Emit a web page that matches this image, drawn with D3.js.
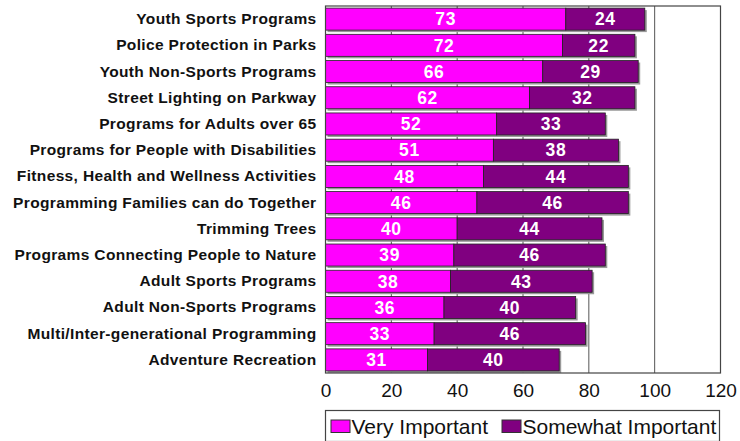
<!DOCTYPE html>
<html>
<head>
<meta charset="utf-8">
<script src="https://cdn.jsdelivr.net/npm/d3@7"></script>
<style>
  body { margin: 0; background: #fff; }
  svg { display: block; font-family: "Liberation Sans", Arial, sans-serif; }
</style>
</head>
<body>
<svg id="chart" width="740" height="441"></svg>
<script>
const categories = [
  "Youth Sports Programs",
  "Police Protection in Parks",
  "Youth Non-Sports Programs",
  "Street Lighting on Parkway",
  "Programs for Adults over 65",
  "Programs for People with Disabilities",
  "Fitness, Health and Wellness Activities",
  "Programming Families can do Together",
  "Trimming Trees",
  "Programs Connecting People to Nature",
  "Adult Sports Programs",
  "Adult Non-Sports Programs",
  "Multi/Inter-generational Programming",
  "Adventure Recreation"
];
const veryImportant = [73, 72, 66, 62, 52, 51, 48, 46, 40, 39, 38, 36, 33, 31];
const somewhatImportant = [24, 22, 29, 32, 33, 38, 44, 46, 44, 46, 43, 40, 46, 40];
const seriesNames = ["Very Important", "Somewhat Important"];
const seriesColors = ["#ff00ff", "#800080"];
const xTicks = [0, 20, 40, 60, 80, 100, 120];

const svg = d3.select("#chart");
const plotLeft = 325.5, plotRight = 720.5, plotTop = 6, plotBottom = 373;

const x = d3.scaleLinear().domain([0, 120]).range([plotLeft, plotRight]);
const y = d3.scaleBand().domain(categories).range([plotTop, plotBottom]).paddingInner(0.16).paddingOuter(0.08);

// plot background + gridlines
svg.append("rect")
  .attr("x", plotLeft).attr("y", plotTop)
  .attr("width", plotRight - plotLeft).attr("height", plotBottom - plotTop)
  .attr("fill", "#fff");

svg.append("g")
  .selectAll("line")
  .data(xTicks.slice(1, -1))
  .join("line")
  .attr("x1", d => x(d)).attr("x2", d => x(d))
  .attr("y1", plotTop).attr("y2", plotBottom)
  .attr("stroke", "#555")
  .attr("stroke-width", 1);

const rows = categories.map((c, i) => ({ cat: c, v: veryImportant[i], s: somewhatImportant[i] }));

// bar shadows
svg.append("g")
  .selectAll("rect")
  .data(rows)
  .join("rect")
  .attr("x", x(0) + 2)
  .attr("y", d => y(d.cat) + 2)
  .attr("width", d => x(d.v + d.s) - x(0))
  .attr("height", y.bandwidth())
  .attr("fill", "#999");

const bars = svg.append("g");
bars.selectAll("rect.very")
  .data(rows)
  .join("rect")
  .attr("class", "very")
  .attr("x", x(0))
  .attr("y", d => y(d.cat))
  .attr("width", d => x(d.v) - x(0))
  .attr("height", y.bandwidth())
  .attr("fill", seriesColors[0])
  .attr("stroke", "#222")
  .attr("stroke-width", 0.8);

bars.selectAll("rect.some")
  .data(rows)
  .join("rect")
  .attr("class", "some")
  .attr("x", d => x(d.v))
  .attr("y", d => y(d.cat))
  .attr("width", d => x(d.v + d.s) - x(d.v))
  .attr("height", y.bandwidth())
  .attr("fill", seriesColors[1])
  .attr("stroke", "#222")
  .attr("stroke-width", 0.8);

// value labels
const labels = svg.append("g")
  .attr("fill", "#fff")
  .attr("font-weight", "bold")
  .attr("font-size", 17.5)
  .attr("letter-spacing", 0.6)
  .attr("text-anchor", "middle");

labels.selectAll("text.v")
  .data(rows)
  .join("text")
  .attr("class", "v")
  .attr("x", d => x(d.v / 2))
  .attr("y", d => y(d.cat) + y.bandwidth() / 2)
  .attr("dy", "0.36em")
  .text(d => d.v);

labels.selectAll("text.s")
  .data(rows)
  .join("text")
  .attr("class", "s")
  .attr("x", d => x(d.v + d.s / 2))
  .attr("y", d => y(d.cat) + y.bandwidth() / 2)
  .attr("dy", "0.36em")
  .text(d => d.s);

// plot frame
svg.append("rect")
  .attr("x", plotLeft).attr("y", plotTop)
  .attr("width", plotRight - plotLeft).attr("height", plotBottom - plotTop)
  .attr("fill", "none")
  .attr("stroke", "#444")
  .attr("stroke-width", 1.2);

// category axis
const yAxis = svg.append("g")
  .attr("transform", `translate(${plotLeft},0)`)
  .call(d3.axisLeft(y).tickSize(0).tickPadding(9));
yAxis.select(".domain").remove();
yAxis.selectAll("text")
  .attr("font-size", 15.5)
  .attr("font-weight", "bold")
  .attr("letter-spacing", 0.35)
  .attr("fill", "#111")
  .attr("font-family", "Liberation Sans, Arial, sans-serif");

// value axis
const xAxis = svg.append("g")
  .attr("transform", `translate(0,${plotBottom})`)
  .call(d3.axisBottom(x).tickValues(xTicks).tickSize(0).tickPadding(11));
xAxis.select(".domain").remove();
xAxis.selectAll("text")
  .attr("font-size", 19)
  .attr("fill", "#111")
  .attr("font-family", "Liberation Sans, Arial, sans-serif");

// legend
const legend = svg.append("g");
legend.append("rect")
  .attr("x", plotLeft).attr("y", 410.5)
  .attr("width", plotRight - plotLeft - 1).attr("height", 31)
  .attr("fill", "#fff")
  .attr("stroke", "#444")
  .attr("stroke-width", 1.2);

const legendX = [331, 502];
seriesNames.forEach((name, i) => {
  legend.append("rect")
    .attr("x", legendX[i]).attr("y", 420)
    .attr("width", 19).attr("height", 12.5)
    .attr("fill", seriesColors[i])
    .attr("stroke", "#333")
    .attr("stroke-width", 1);
  legend.append("text")
    .attr("x", legendX[i] + 20.5).attr("y", 426.5)
    .attr("dy", "0.36em")
    .attr("font-size", 21)
    .attr("fill", "#111")
    .text(name);
});
</script>
</body>
</html>
